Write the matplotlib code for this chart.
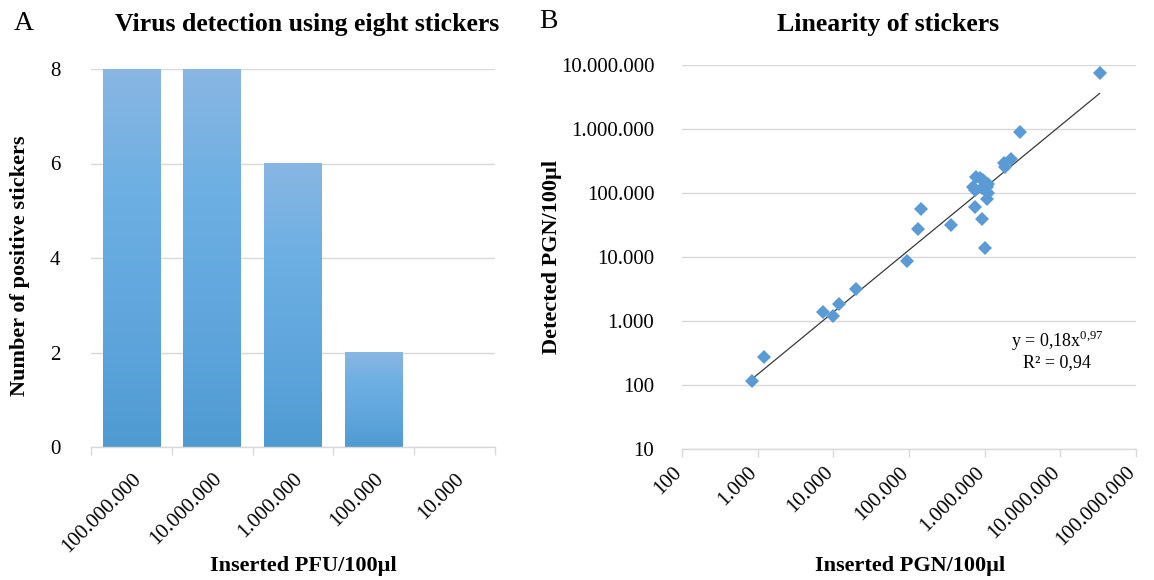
import numpy as np
import matplotlib
matplotlib.use("Agg")
import matplotlib.pyplot as plt
import matplotlib.transforms as mtransforms
from matplotlib.colors import LinearSegmentedColormap
from matplotlib.ticker import FixedLocator, FuncFormatter, NullFormatter, NullLocator

# Panel A: positive stickers per inserted dose
pfu_labels = ["100.000.000", "10.000.000", "1.000.000", "100.000", "10.000"]
positive_stickers = [8, 8, 6, 2, 0]

# Panel B: inserted vs detected genome copies
inserted_pgn = [850, 1200, 7400, 9800, 12000, 20000, 95000, 130000, 145000,
                355000, 760000, 965000, 1120000, 750000, 915000, 1070000,
                1070000, 750000, 915000, 1020000, 1780000, 1870000, 2200000,
                2960000, 33000000, 870000, 710000, 1120000]
detected_pgn = [115, 270, 1350, 1170, 1860, 3100, 8700, 27000, 55000,
                31500, 174000, 157000, 138000, 110000, 117000, 121000,
                81000, 60000, 39000, 13800, 290000, 253000, 330000,
                870000, 7400000, 170000, 122000, 98000]

# Power-law trend line y = a * x^b
fit_coef = 0.18
fit_exp = 0.97
fit_r2 = 0.94

plt.rcParams["font.family"] = ["Liberation Serif", "DejaVu Serif"]
plt.rcParams["mathtext.fontset"] = "custom"
plt.rcParams["mathtext.rm"] = "Liberation Serif"

W, H = 1154, 580
fig = plt.figure(figsize=(W / 100, H / 100), dpi=100)

grid_col = "#d9d9d9"
tick_fs = 15
label_fs = 16


def fx(px):
    return px / W


def fy(py):
    return 1 - py / H


# ---------------- Panel A ----------------
axA = fig.add_axes([fx(91), fy(447), fx(495) - fx(91), fy(69) - fy(447)])
bar_w = 0.714
bar_cmap = LinearSegmentedColormap.from_list(
    "bar_grad", ["#4e9bd1", "#60a6dd", "#6cafe2", "#89b6e3"])
grad = np.linspace(0, 1, 256).reshape(-1, 1)
for i, v in enumerate(positive_stickers):
    if v > 0:
        axA.imshow(grad, extent=[i - bar_w / 2, i + bar_w / 2, 0, v],
                   origin="lower", cmap=bar_cmap, aspect="auto", zorder=2,
                   interpolation="bilinear")
axA.set_xlim(-0.5, len(pfu_labels) - 0.5)
axA.set_ylim(0, 8)
axA.set_yticks([0, 2, 4, 6, 8])
axA.yaxis.grid(True, color=grid_col, lw=1.0, zorder=0)
axA.set_axisbelow(True)
for s in ["top", "right", "left"]:
    axA.spines[s].set_visible(False)
axA.spines["bottom"].set_color(grid_col)
axA.spines["bottom"].set_linewidth(1.0)
axA.tick_params(axis="y", length=0, labelsize=tick_fs, pad=22)
axA.set_xticks(range(len(pfu_labels)))
axA.set_xticklabels(pfu_labels, rotation=45, ha="right",
                    rotation_mode="anchor", fontsize=tick_fs)
axA.tick_params(axis="x", which="major", length=0, pad=16)
axA.xaxis.set_minor_locator(FixedLocator(np.arange(-0.5, len(pfu_labels), 1.0)))
axA.tick_params(axis="x", which="minor", length=6, color=grid_col, width=1.0)

fig.text(fx(24), fy(24), "A", fontsize=20, ha="center", va="center")
fig.text(fx(307), fy(24), "Virus detection using eight stickers",
         fontsize=18.5, fontweight="bold", ha="center", va="center")
fig.text(fx(303), fy(566), "Inserted PFU/100µl", fontsize=label_fs,
         fontweight="bold", ha="center", va="center")
fig.text(fx(20), fy(266), "Number of positive stickers", fontsize=label_fs,
         fontweight="bold", ha="center", va="center", rotation=90)

# ---------------- Panel B ----------------
axB = fig.add_axes([fx(682), fy(449), fx(1136) - fx(682), fy(64.5) - fy(449)])
axB.set_xscale("log")
axB.set_yscale("log")
axB.set_xlim(1e2, 1e8)
axB.set_ylim(1e1, 1e7)

xs = np.array(inserted_pgn, dtype=float)
x_line = np.logspace(np.log10(xs.min()), np.log10(xs.max()), 100)
axB.plot(x_line, fit_coef * x_line ** fit_exp, color="#3a3a3a", lw=0.9, zorder=3)
axB.plot(inserted_pgn, detected_pgn, linestyle="none", marker="D",
         markersize=7.5, color="#5b9bd5", markeredgewidth=0, zorder=4)

dot_fmt = FuncFormatter(lambda v, p: f"{int(round(v)):,}".replace(",", "."))
axB.xaxis.set_major_locator(FixedLocator([10.0 ** k for k in range(2, 9)]))
axB.yaxis.set_major_locator(FixedLocator([10.0 ** k for k in range(1, 8)]))
axB.xaxis.set_major_formatter(dot_fmt)
axB.yaxis.set_major_formatter(dot_fmt)
axB.xaxis.set_minor_locator(NullLocator())
axB.yaxis.set_minor_locator(NullLocator())
axB.xaxis.set_minor_formatter(NullFormatter())
axB.yaxis.set_minor_formatter(NullFormatter())
axB.yaxis.grid(True, color=grid_col, lw=1.0, zorder=0)
axB.set_axisbelow(True)
for s in ["top", "right", "left"]:
    axB.spines[s].set_visible(False)
axB.spines["bottom"].set_color(grid_col)
axB.spines["bottom"].set_linewidth(1.0)
axB.tick_params(axis="y", length=0, labelsize=tick_fs, pad=20)
axB.tick_params(axis="x", length=6, color=grid_col, width=1.0,
                labelsize=tick_fs, pad=4)
shift = mtransforms.ScaledTranslation(-10 / 100, 0, fig.dpi_scale_trans)
for lab in axB.get_xticklabels():
    lab.set_rotation(45)
    lab.set_ha("right")
    lab.set_rotation_mode("anchor")
    lab.set_transform(lab.get_transform() + shift)

axB.text(0.826, 0.281, "y = 0,18x$^{0{,}97}$", transform=axB.transAxes,
         fontsize=13, ha="center", va="center")
axB.text(0.826, 0.226, "R² = 0,94", transform=axB.transAxes,
         fontsize=13, ha="center", va="center")

fig.text(fx(548), fy(22), "B", fontsize=20, ha="center", va="center")
fig.text(fx(888), fy(24), "Linearity of stickers", fontsize=18.5,
         fontweight="bold", ha="center", va="center")
fig.text(fx(910), fy(566), "Inserted PGN/100µl", fontsize=label_fs,
         fontweight="bold", ha="center", va="center")
fig.text(fx(552), fy(257), "Detected PGN/100µl", fontsize=label_fs,
         fontweight="bold", ha="center", va="center", rotation=90)

fig.savefig("out.png", dpi=100)
